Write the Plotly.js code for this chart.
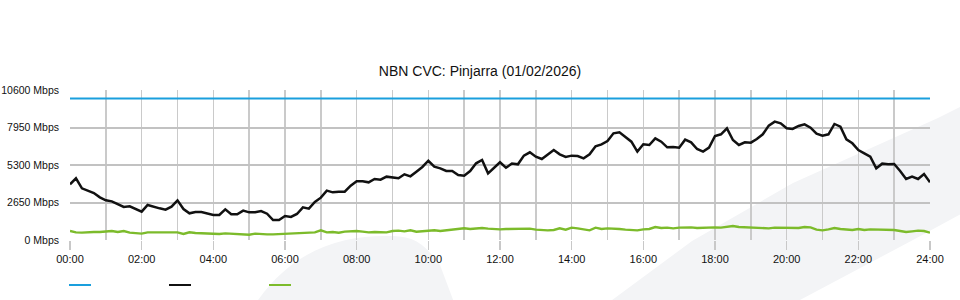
<!DOCTYPE html>
<html>
<head>
<meta charset="utf-8">
<script src="https://cdn.plot.ly/plotly-3.0.1.min.js"></script>
<style>html,body{margin:0;padding:0;background:#fff;}#chart{width:960px;height:300px;}</style>
</head>
<body>
<div id="chart"></div>
<script>
// ---- data (10-minute samples, Mbps) ----
const SAMPLE_MINUTES = 10;
const tickMinutes = [0, 120, 240, 360, 480, 600, 720, 840, 960, 1080, 1200, 1320, 1440];
const tickLabels = ["00:00","02:00","04:00","06:00","08:00","10:00","12:00","14:00","16:00","18:00","20:00","22:00","24:00"];
const yTicks = [0, 2650, 5300, 7950, 10600];
const yTickLabels = ["0 Mbps", "2650 Mbps", "5300 Mbps", "7950 Mbps", "10600 Mbps"];

const capacityMinutes = [0, 1440];
const capacity = [10000, 10000];

const download = [
  3934,4359,3652,3463,3322,3016,2804,2733,2545,2332,
  2380,2168,2003,2474,2332,2238,2144,2356,2800,2191,
  1885,1979,1979,1885,1767,1767,2168,1814,1814,2073,
  1955,1955,2050,1861,1414,1414,1696,1626,1838,2309,
  2215,2686,2992,3487,3369,3416,3416,3840,4147,4147,
  4076,4311,4264,4476,4406,4359,4641,4500,4830,5160,
  5600,5183,5065,4877,4877,4594,4547,4877,5419,5654,
  4712,5112,5490,5112,5400,5348,5961,6196,5890,5725,
  6055,6361,6055,5866,5961,5937,5772,6055,6620,6762,
  6997,7539,7610,7280,6950,6243,6762,6715,7186,6950,
  6550,6573,6526,7092,6903,6432,6243,6526,7351,7469,
  7893,7068,6715,6903,6880,7139,7469,8081,8364,8246,
  7893,7846,8058,8175,7940,7516,7374,7469,8199,8010,
  7115,6832,6361,6126,5890,5065,5395,5348,5372,4877,
  4311,4476,4311,4665,4076
];

const upload = [
  636,542,518,565,565,565,589,636,565,636,
  518,471,448,542,542,589,542,589,542,424,
  542,495,471,495,448,424,471,448,400,377,
  377,448,400,400,400,424,400,448,471,495,
  518,542,683,542,565,518,589,613,636,589,
  542,565,542,542,636,660,613,683,589,613,
  660,683,636,683,707,754,825,777,825,848,
  801,754,754,777,777,777,777,801,730,683,
  683,707,825,730,872,825,754,683,872,777,
  825,825,777,730,707,683,754,777,919,848,
  872,825,872,895,895,848,872,872,895,872,
  942,990,919,895,872,825,801,825,872,872,
  825,825,848,919,895,730,683,754,848,777,
  754,707,777,707,754,754,707,730,707,636,
  565,613,660,636,518
];

const seriesColors = ["#1a9fdd", "#111111", "#7cbb2b"];

// ---- chart ----
const FONT = "Liberation Sans, Arial, Helvetica, sans-serif";

const traces = [
  {type: "scatter", mode: "lines", name: "capacity", x: capacityMinutes, y: capacity,
   line: {color: seriesColors[0], width: 2}},
  {type: "scatter", mode: "lines", name: "download", x0: 0, dx: SAMPLE_MINUTES, y: download,
   line: {color: seriesColors[1], width: 2.5}},
  {type: "scatter", mode: "lines", name: "upload", x0: 0, dx: SAMPLE_MINUTES, y: upload,
   line: {color: seriesColors[2], width: 2.4}}
];

// legend swatches (short line keys without text, as in the original)
const legendShapes = seriesColors.map((c, i) => ({
  type: "line", xref: "paper", yref: "paper", layer: "above",
  x0: (-1 + 100 * i) / 860, x1: (21 + 100 * i) / 860, y0: -0.3, y1: -0.3,
  line: {color: c, width: 2}
}));

const layout = {
  width: 960, height: 300,
  margin: {l: 70, r: 30, t: 90, b: 60, pad: 0, autoexpand: false},
  paper_bgcolor: "#ffffff",
  plot_bgcolor: "rgba(0,0,0,0)",
  font: {family: FONT, size: 11, color: "#111"},
  title: {text: "NBN CVC: Pinjarra (01/02/2026)", font: {family: FONT, size: 14, color: "#111"},
          x: 0.5, xanchor: "center", y: 1 - 71/300, yref: "container", yanchor: "middle"},
  showlegend: false,
  xaxis: {
    range: [0, 1440], fixedrange: true,
    tickmode: "array", tickvals: tickMinutes, ticktext: tickLabels,
    ticks: "outside", ticklen: 9, tickwidth: 1.5, tickcolor: "#c8c8c8",
    showgrid: true, gridcolor: "#cacaca", gridwidth: 1.5,
    minor: {dtick: 60, tick0: 0, showgrid: true, gridcolor: "#cacaca", gridwidth: 1.5, ticks: ""},
    zeroline: false, showline: false,
    tickfont: {family: FONT, size: 11, color: "#111"}
  },
  yaxis: {
    range: [0, 10600], fixedrange: true,
    tickmode: "array", tickvals: yTicks, ticktext: yTickLabels,
    ticks: "", ticklabelstandoff: 10,
    showgrid: true, gridcolor: "#c2c2c2", gridwidth: 2,
    zeroline: false, showline: false,
    tickfont: {family: FONT, size: 10.5, color: "#111"}
  },
  shapes: [
    {type: "path", xref: "paper", yref: "paper", layer: "below", line: {width: 0}, fillcolor: "#f3f4f6",
     path: "M0.6186,-0.45 L0.7233,-0.0067 L0.8407,0.38 L1.0093,0.8133 L1.06,0.96 L1.06,0.247 L0.9802,0 L0.8488,-0.4 L0.83,-0.45 Z"},
    {type: "path", xref: "paper", yref: "paper", layer: "below", line: {width: 0}, fillcolor: "#f3f4f6",
     path: "M0.2128,-0.45 C0.2558,-0.0667 0.314,0.0267 0.3663,0.0267 C0.3953,0.0267 0.407,0.0133 0.4302,-0.1667 L0.4488,-0.45 Z"}
  ].concat(legendShapes)
};

Plotly.newPlot("chart", traces, layout, {displayModeBar: false, staticPlot: true});
</script>
</body>
</html>
